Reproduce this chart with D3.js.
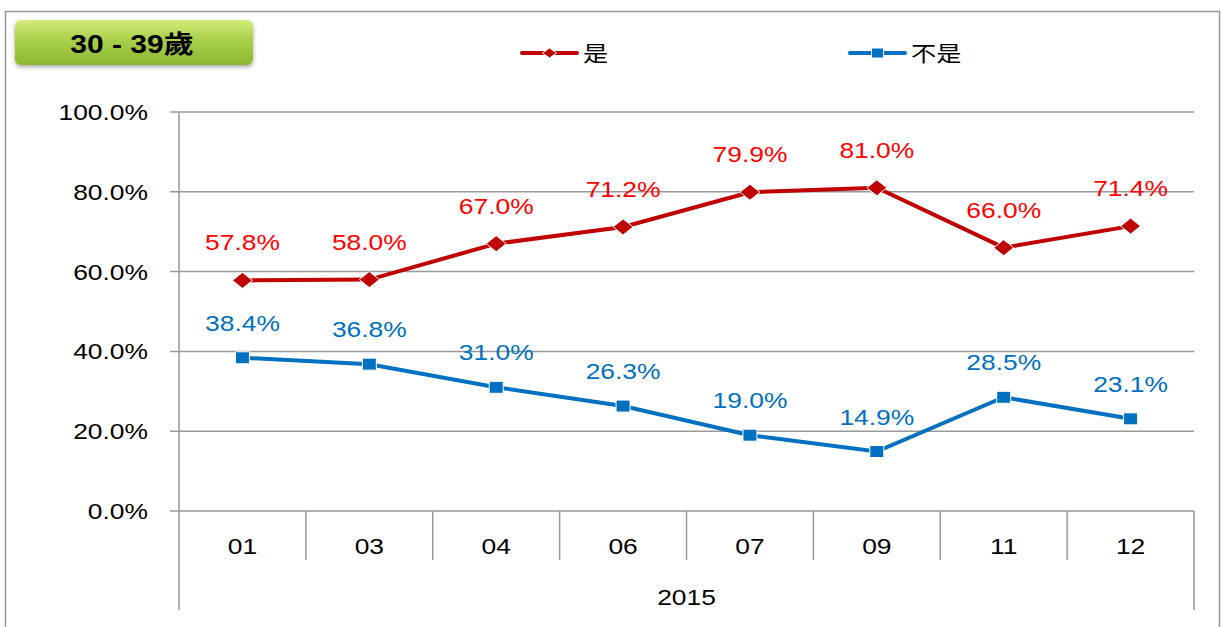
<!DOCTYPE html>
<html>
<head>
<meta charset="utf-8">
<script src="https://cdn.jsdelivr.net/npm/d3@7"></script>
<style>
  body { margin: 0; background: #fff; }
  text { font-family: "Liberation Sans", Arial, "Noto Sans CJK TC", sans-serif; }
</style>
</head>
<body>
<script>
var w = 1221;
var h = 627;

// data
var months = ["01", "03", "04", "06", "07", "09", "11", "12"];
var yesValues = [57.8, 58.0, 67.0, 71.2, 79.9, 81.0, 66.0, 71.4];
var noValues = [38.4, 36.8, 31.0, 26.3, 19.0, 14.9, 28.5, 23.1];
var yTicks = [0, 20, 40, 60, 80, 100];
var yearLabel = "2015";
var titleText = "30 - 39歲";
var seriesNames = ["是", "不是"];

// plot box (note: "top" is taken by window.top)
var plotL = 179, plotR = 1194, plotT = 112, plotB = 511;
// the original picture is stretched sideways, so texts are too
var stretch = 1.2;

var svg = d3.select("body")
            .append("svg")
            .attr("width", w)
            .attr("height", h);

// move x/y into a transform so the glyphs get widened round their anchor
function widen(sel) {
    sel.each(function() {
        var t = d3.select(this);
        var tx = +t.attr("x"), ty = +t.attr("y");
        t.attr("x", 0).attr("y", 0)
         .attr("transform", "translate(" + tx + "," + ty + ") scale(" + stretch + ",1)");
    });
}

var defs = svg.append("defs");
var grad = defs.append("linearGradient")
    .attr("id", "greenGrad")
    .attr("x1", 0).attr("y1", 0).attr("x2", 0).attr("y2", 1);
grad.append("stop").attr("offset", "0%").attr("stop-color", "#d3ec7a");
grad.append("stop").attr("offset", "45%").attr("stop-color", "#a9cf4a");
grad.append("stop").attr("offset", "100%").attr("stop-color", "#8cb832");

var shadow = defs.append("filter").attr("id", "shadow")
    .attr("x", "-10%").attr("y", "-20%").attr("width", "120%").attr("height", "150%");
shadow.append("feDropShadow")
    .attr("dx", 0).attr("dy", 2).attr("stdDeviation", 2)
    .attr("flood-color", "#000").attr("flood-opacity", 0.35);

// outer frame
svg.append("rect")
    .attr("x", 5.5).attr("y", 11.5)
    .attr("width", 1214).attr("height", 640)
    .attr("fill", "none")
    .attr("stroke", "#999")
    .attr("stroke-width", 1.5);

// title badge
svg.append("rect")
    .attr("x", 15).attr("y", 20)
    .attr("width", 238).attr("height", 45)
    .attr("rx", 6)
    .attr("fill", "url(#greenGrad)")
    .attr("filter", "url(#shadow)");
svg.append("text")
    .attr("x", 132).attr("y", 53)
    .attr("text-anchor", "middle")
    .attr("font-size", "25px")
    .attr("font-weight", "bold")
    .attr("fill", "#000")
    .text(titleText)
    .call(widen);

// scales
var x = d3.scaleBand().domain(months).range([plotL, plotR]);
var y = d3.scaleLinear().domain([0, 100]).range([plotB, plotT]);

// gridlines
svg.append("g")
    .selectAll("line")
    .data(yTicks)
    .enter().append("line")
        .attr("x1", plotL - 9)
        .attr("x2", plotR)
        .attr("y1", function(d) { return y(d); })
        .attr("y2", function(d) { return y(d); })
        .attr("stroke", "#999")
        .attr("stroke-width", 1.5);

// y labels
svg.append("g")
    .selectAll("text")
    .data(yTicks)
    .enter().append("text")
        .attr("x", 148)
        .attr("y", function(d) { return y(d) + 8; })
        .attr("text-anchor", "end")
        .attr("font-size", "22px")
        .attr("fill", "#000")
        .text(function(d) { return d.toFixed(1) + "%"; })
        .call(widen);

// left axis and right edge
svg.append("line")
    .attr("x1", plotL).attr("x2", plotL)
    .attr("y1", plotT).attr("y2", 610)
    .attr("stroke", "#999").attr("stroke-width", 1.5);
svg.append("line")
    .attr("x1", plotR).attr("x2", plotR)
    .attr("y1", plotB).attr("y2", 610)
    .attr("stroke", "#999").attr("stroke-width", 1.5);

// category separators
svg.append("g")
    .selectAll("line")
    .data(months.slice(1))
    .enter().append("line")
        .attr("x1", function(d) { return x(d); })
        .attr("x2", function(d) { return x(d); })
        .attr("y1", plotB)
        .attr("y2", 560)
        .attr("stroke", "#999")
        .attr("stroke-width", 1.5);

// category labels
svg.append("g")
    .selectAll("text")
    .data(months)
    .enter().append("text")
        .attr("x", function(d) { return x(d) + x.bandwidth() / 2; })
        .attr("y", 554)
        .attr("text-anchor", "middle")
        .attr("font-size", "22px")
        .attr("fill", "#000")
        .text(function(d) { return d; })
        .call(widen);

svg.append("text")
    .attr("x", (plotL + plotR) / 2)
    .attr("y", 605)
    .attr("text-anchor", "middle")
    .attr("font-size", "22px")
    .attr("fill", "#000")
    .text(yearLabel)
    .call(widen);

// series
var cx = function(d, i) { return x(months[i]) + x.bandwidth() / 2; };
var line = d3.line()
    .x(cx)
    .y(function(d) { return y(d); });

function drawSeries(values, lineColor, labelColor, marker, labelOffset) {
    svg.append("path")
        .datum(values)
        .attr("d", line)
        .attr("fill", "none")
        .attr("stroke", lineColor)
        .attr("stroke-width", 4);

    svg.append("g")
        .selectAll("path")
        .data(values)
        .enter().append("path")
            .attr("transform", function(d, i) {
                return "translate(" + cx(d, i) + "," + y(d) + ")";
            })
            .attr("d", marker)
            .attr("fill", lineColor)
            .attr("stroke", "#fff")
            .attr("stroke-width", 1);

    svg.append("g")
        .selectAll("text")
        .data(values)
        .enter().append("text")
            .attr("x", cx)
            .attr("y", function(d) { return y(d) - labelOffset; })
            .attr("text-anchor", "middle")
            .attr("font-size", "22px")
            .attr("fill", labelColor)
            .text(function(d) { return d.toFixed(1) + "%"; })
            .call(widen);
}

var diamond = "M0,-8L10,0L0,8L-10,0Z";
var square = "M-7,-6H7V6H-7Z";

drawSeries(yesValues, "#c00000", "#ff0000", diamond, 30);
drawSeries(noValues, "#0070c0", "#0070c0", square, 27);

// legend
var legend = [
    { name: seriesNames[0], color: "#c00000", marker: "M0,-5L7,0L0,5L-7,0Z", x: 522 },
    { name: seriesNames[1], color: "#0070c0", marker: "M-6,-5H6V5H-6Z", x: 850 }
];
legend.forEach(function(l) {
    svg.append("line")
        .attr("x1", l.x).attr("x2", l.x + 55)
        .attr("y1", 53).attr("y2", 53)
        .attr("stroke", l.color)
        .attr("stroke-width", 4)
        .attr("stroke-linecap", "round");
    svg.append("path")
        .attr("transform", "translate(" + (l.x + 27.5) + ",53)")
        .attr("d", l.marker)
        .attr("fill", l.color)
        .attr("stroke", "#fff")
        .attr("stroke-width", 1);
    svg.append("text")
        .attr("x", l.x + 61)
        .attr("y", 61)
        .attr("font-size", "21px")
        .attr("font-family", "'Noto Sans CJK TC', sans-serif")
        .attr("fill", "#000")
        .text(l.name)
        .call(widen);
});
</script>
</body>
</html>
